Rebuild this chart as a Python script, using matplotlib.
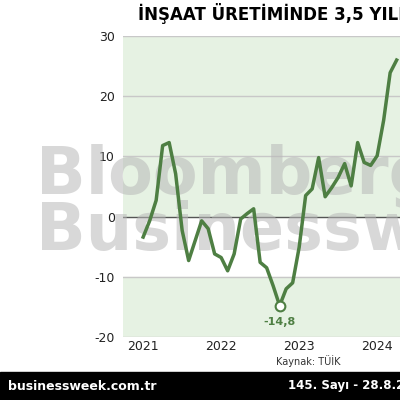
import matplotlib
matplotlib.use("Agg")
import matplotlib.pyplot as plt
import numpy as np

values = [-3.4,-0.7,2.7,11.8,12.3,7.1,-2.3,-7.3,-4.0,-0.7,-2.0,-6.2,
          -6.8,-9.0,-6.2,-0.4,0.5,1.3,-7.6,-8.5,-11.5,-14.8,-12.0,-11.0,-5.1,
          3.5,4.6,9.8,3.3,4.8,6.5,8.8,5.1,12.3,9.0,8.5,10.1,16.0,23.9,26.0]
months = np.arange(len(values))  # Jan 2021 onward
xticks = [0,12,24,36]
xlabels = ["2021","2022","2023","2024"]
yticks = [-20,-10,0,10,20,30]
ylabels = ["-20","-10","0","10","20","30"]

fig = plt.figure(figsize=(4,4), dpi=100)
ax = fig.add_axes([0.3075, 0.1575, 0.78, 0.7525])
green = "#4e7f43"
ax.axhspan(-20, -10, color="#e6f2e3", zorder=0)
ax.axhspan(0, 30, color="#e6f2e3", zorder=0)
for y in yticks:
    ax.axhline(y, color="#c8c8c8" if y != 0 else "#555555", lw=1, zorder=1)
for txt, yy in [("Bloomberg", 0.56), ("Businessweek", 0.42)]:
    ax.text(0.09, yy, txt, transform=fig.transFigure, fontsize=47, fontweight="bold",
            color="#b8b8b8", alpha=0.55, va="center", zorder=2, clip_on=False)
ax.plot(months, values, color=green, lw=2.5, zorder=3)
ax.plot(21, -14.8, 'o', ms=7, mfc="white", mec=green, mew=1.5, zorder=4)
ax.text(21, -16.6, "-14,8", color=green, fontsize=8, fontweight="bold", ha="center", va="top", zorder=4)
ax.set_xlim(-3.1, 44.9)
ax.set_ylim(-20, 30)
ax.set_yticks(yticks)
ax.set_yticklabels(ylabels)
ax.set_xticks(xticks)
ax.set_xticklabels(xlabels)
ax.tick_params(length=0, labelsize=9, colors="#222222", pad=6)
ax.tick_params(axis="x", pad=2)
for lab in ax.get_yticklabels():
    lab.set_zorder(5)
for s in ax.spines.values():
    s.set_visible(False)
fig.text(0.345, 0.967, "İNŞAAT ÜRETİMİNDE 3,5 YILIN ZİRVESİ", fontsize=12, fontweight="bold", va="center")
fig.text(0.85, 0.097, "Kaynak: TÜİK", fontsize=7, ha="right", va="center", color="#333333")
fig.patches.append(plt.Rectangle((0, 0), 1, 0.07, transform=fig.transFigure, color="black", zorder=20))
fig.text(0.02, 0.035, "businessweek.com.tr", fontsize=9, fontweight="bold", color="white", va="center", zorder=21)
fig.text(0.72, 0.035, "145. Sayı - 28.8.2024", fontsize=8.5, fontweight="bold", color="white", va="center", zorder=21)
fig.savefig("out.png", dpi=100)
